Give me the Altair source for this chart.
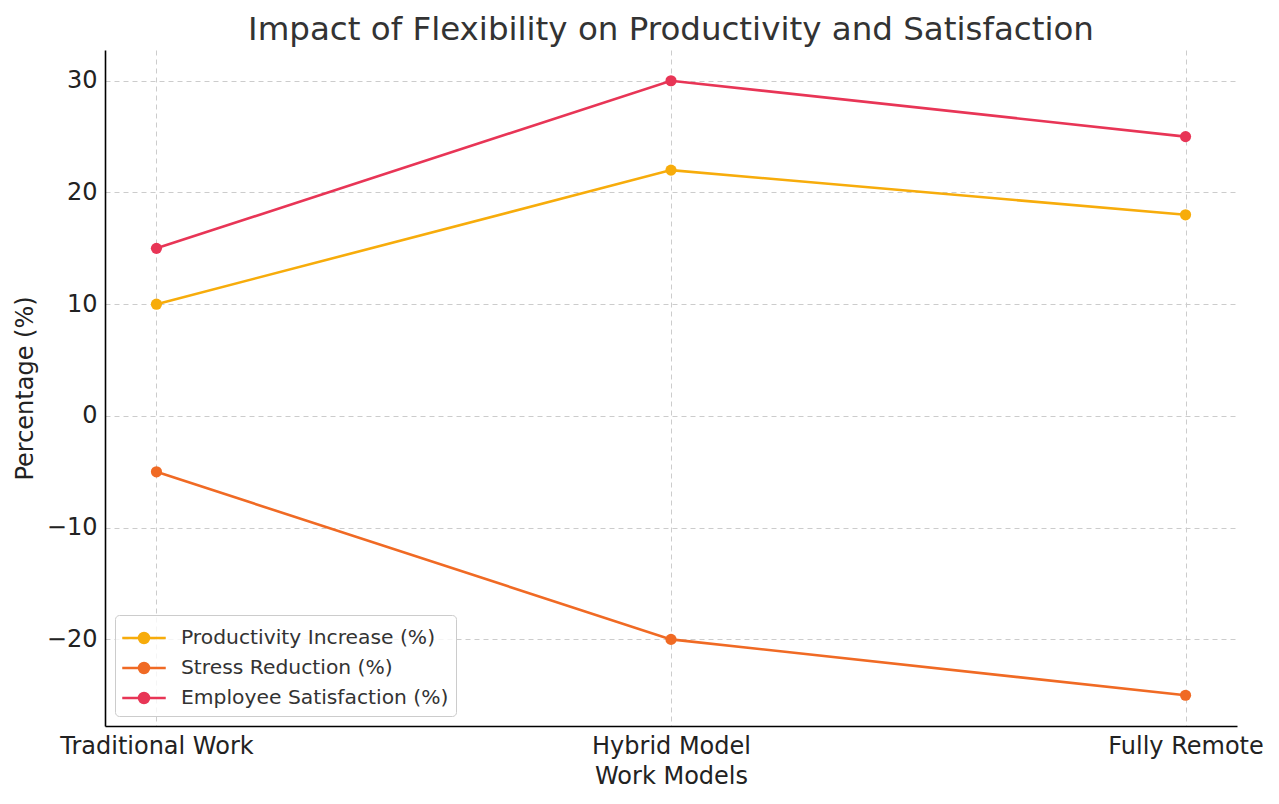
import altair as alt
import pandas as pd

models = ["Traditional Work", "Hybrid Model", "Fully Remote"]
series = ["Productivity Increase (%)", "Stress Reduction (%)", "Employee Satisfaction (%)"]
productivity = [10, 22, 18]
stress = [-5, -20, -25]
satisfaction = [15, 30, 25]
colors = ["#F7AC0B", "#F06A24", "#E83556"]
y_ticks = [-20, -10, 0, 10, 20, 30]

rows = []
for name, vals in zip(series, [productivity, stress, satisfaction]):
    for m, v in zip(models, vals):
        rows.append({"model": m, "series": name, "value": v})
df = pd.DataFrame(rows)

FONT = "DejaVu Sans"


def ring(r):
    return f"M{r},0A{r},{r},0,1,1,{-r},0A{r},{r},0,1,1,{r},0"


path = "M-1.5,0H1.5" + ring(0.083) + ring(0.228) + ring(0.345)

color = alt.Color(
    "series:N",
    scale=alt.Scale(domain=series, range=colors),
    legend=alt.Legend(
        title=None,
        orient="bottom-left",
        offset=10,
        padding=7,
        symbolOffset=6,
        symbolType=path,
        symbolSize=841,
        symbolStrokeWidth=2.5,
        labelFontSize=20.3,
        labelFont=FONT,
        labelColor="#333333",
        labelOffset=21,
        labelLimit=0,
        rowPadding=3,
        fillColor="rgba(255,255,255,0.8)",
        strokeColor="#cccccc",
        cornerRadius=4,
    ),
)

x = alt.X(
    "model:N",
    sort=models,
    scale=alt.Scale(type="point", padding=0.1),
    axis=alt.Axis(
        title="Work Models",
        labelAngle=0,
        labelLimit=0,
        ticks=False,
        labelPadding=8,
        titlePadding=6,
        grid=True,
    ),
)
y = alt.Y(
    "value:Q",
    scale=alt.Scale(domain=[-27.75, 32.75], nice=False, zero=False),
    axis=alt.Axis(
        title="Percentage (%)",
        values=y_ticks,
        ticks=False,
        labelPadding=8,
        titlePadding=9,
        grid=True,
    ),
)

base = alt.Chart(df).encode(x=x, y=y, color=color)
lines = base.mark_line(strokeWidth=2.6)
points = base.mark_circle(size=125, opacity=1)

chart = (
    alt.layer(lines, points)
    .properties(
        width=1132,
        height=676,
        title=alt.TitleParams(
            "Impact of Flexibility on Productivity and Satisfaction",
            fontSize=32.5,
            font=FONT,
            fontWeight="normal",
            color="#333333",
            anchor="middle",
            offset=4,
        ),
        autosize=alt.AutoSizeParams(type="none"),
        padding={"left": 97, "top": 42, "right": 30, "bottom": 66},
    )
    .configure_view(stroke=None)
    .configure_axis(
        labelFont=FONT,
        titleFont=FONT,
        labelFontSize=24,
        titleFontSize=24,
        labelColor="#222222",
        titleColor="#222222",
        titleFontWeight="normal",
        domainColor="#000000",
        domainWidth=1.6,
        gridColor="#cccccc",
        gridDash=[5, 4],
        gridWidth=1,
    )
)

chart.save("out.html", embed_options={"renderer": "svg", "actions": False})
